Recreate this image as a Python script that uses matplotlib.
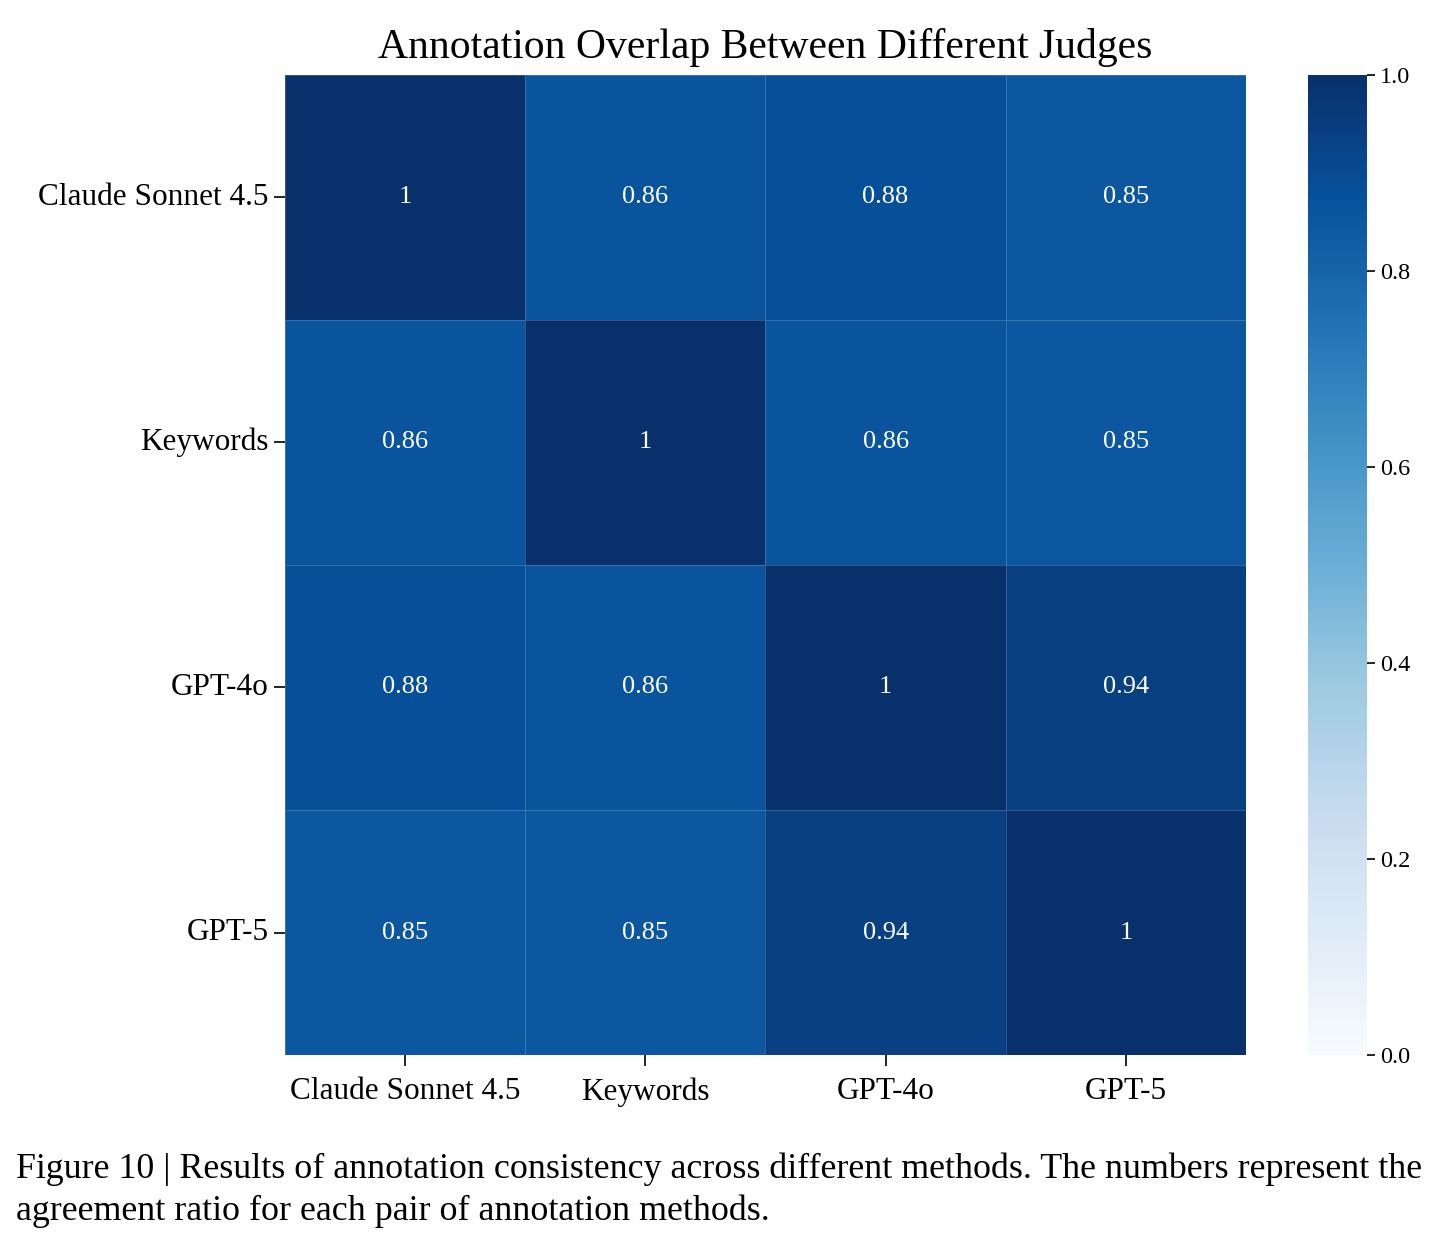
import matplotlib
matplotlib.use('Agg')
import matplotlib.pyplot as plt
import seaborn as sns
import numpy as np

judges = ['Claude Sonnet 4.5', 'Keywords', 'GPT-4o', 'GPT-5']
overlap = np.array([
    [1.00, 0.86, 0.88, 0.85],
    [0.86, 1.00, 0.86, 0.85],
    [0.88, 0.86, 1.00, 0.94],
    [0.85, 0.85, 0.94, 1.00],
])
annot_labels = [
    ['1', '0.86', '0.88', '0.85'],
    ['0.86', '1', '0.86', '0.85'],
    ['0.88', '0.86', '1', '0.94'],
    ['0.85', '0.85', '0.94', '1'],
]

plt.rcParams['font.family'] = ['Liberation Serif', 'DejaVu Serif']

fig = plt.figure(figsize=(14.42, 12.45), dpi=100)
ax = fig.add_axes([0.1976, 0.1526, 0.6665, 0.7872])
cax = fig.add_axes([0.907, 0.1526, 0.041, 0.7872])

sns.heatmap(overlap, ax=ax, cbar_ax=cax, cmap='Blues', vmin=0, vmax=1,
            annot=np.array(annot_labels), fmt='', annot_kws={'fontsize': 19, 'color': 'white'},
            linewidths=0.5, linecolor=(1, 1, 1, 0.18),
            xticklabels=judges, yticklabels=judges)

ax.set_title('Annotation Overlap Between Different Judges', fontsize=30, pad=12)
ax.tick_params(axis='both', labelsize=22.5, length=8, width=1.2)
ax.tick_params(axis='x', pad=8)
ax.set_yticklabels(judges, rotation=0)
ax.set_xticklabels(judges, rotation=0)
cax.tick_params(labelsize=17.5, length=6, width=1.2)
cax.set_yticks([0.0, 0.2, 0.4, 0.6, 0.8, 1.0])
cax.set_yticklabels(['0.0', '0.2', '0.4', '0.6', '0.8', '1.0'])

fig.text(0.011, 0.074, 'Figure 10 | Results of annotation consistency across different methods. The numbers represent the\n'
         'agreement ratio for each pair of annotation methods.',
         fontsize=25.8, va='top', ha='left', linespacing=1.3)

fig.savefig('out.png', dpi=100)
